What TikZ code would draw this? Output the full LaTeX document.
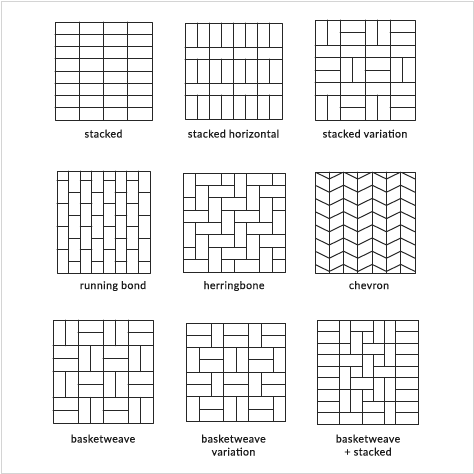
\documentclass[tikz,border=0pt]{standalone}
\usepackage{fontspec}
\setmainfont{Lato}[LetterSpace=4,FakeBold=0.4]
\definecolor{ink}{HTML}{262626}
\definecolor{labelink}{HTML}{1A1A1A}
\definecolor{framegray}{HTML}{D4D4D4}
\begin{document}
\begin{tikzpicture}[x=1pt,y=-1pt,
  brick/.style={draw=ink, line width=1pt, line join=round, line cap=round},
  lbl/.style={font=\fontsize{10.6}{12}\selectfont, text=labelink, inner sep=0pt, anchor=base}]
\useasboundingbox (0,0) rectangle (474,474);
\fill[white] (0,0) rectangle (474,474);
\draw[framegray, line width=0.8pt] (1,1) rectangle (473,473);

% ---------- Tile 1: stacked
\begin{scope}[shift={(55,22)},x=24.25pt,y=-12.25pt]
 \foreach \i in {1,2,3} \draw[brick] (\i,0) -- (\i,8);
 \foreach \j in {1,...,7} \draw[brick] (0,\j) -- (4,\j);
 \draw[brick] (0,0) rectangle (4,8);
\end{scope}

% ---------- Tile 2: stacked horizontal
\begin{scope}[shift={(185,23)},x=12.125pt,y=-12pt]
 \foreach \j in {2,3,5,6} \draw[brick] (0,\j) -- (8,\j);
 \foreach \i in {1,...,7} {\draw[brick] (\i,0) -- (\i,2); \draw[brick] (\i,3) -- (\i,5); \draw[brick] (\i,6) -- (\i,8);}
 \foreach \i in {2,4,6} {\draw[brick] (\i,2) -- (\i,3); \draw[brick] (\i,5) -- (\i,6);}
 \draw[brick] (0,0) rectangle (8,8);
\end{scope}

% ---------- Tile 3: stacked variation
\begin{scope}[shift={(315,20)},x=12.5pt,y=-12.5pt]
 \foreach \j in {2,3,5,6} \draw[brick] (0,\j) -- (8,\j);
 \foreach \i in {2,4,6} \draw[brick] (\i,0) -- (\i,8);
 \draw[brick] (1,0) -- (1,2); \draw[brick] (2,1) -- (4,1); \draw[brick] (5,0) -- (5,2); \draw[brick] (6,1) -- (8,1);
 \draw[brick] (0,4) -- (2,4); \draw[brick] (3,3) -- (3,5); \draw[brick] (4,4) -- (6,4); \draw[brick] (7,3) -- (7,5);
 \draw[brick] (1,6) -- (1,8); \draw[brick] (2,7) -- (4,7); \draw[brick] (5,6) -- (5,8); \draw[brick] (6,7) -- (8,7);
 \draw[brick] (0,0) rectangle (8,8);
\end{scope}

% ---------- Tile 4: running bond
\begin{scope}[shift={(57,171)},x=11.625pt,y=-1pt]
 \foreach \i in {1,...,7} \draw[brick] (\i,0) -- (\i,102);
 \foreach \i in {0,2,4,6} \foreach \y in {9.5,32.5,55.5,78.5} \draw[brick] (\i,\y) -- ({\i+1},\y);
 \foreach \i in {1,3,5,7} \foreach \y in {21,44,67,90} \draw[brick] (\i,\y) -- ({\i+1},\y);
 \draw[brick] (0,0) rectangle (8,102);
\end{scope}

% ---------- Tile 5: herringbone
\begin{scope}[shift={(183,173)},x=12.75pt,y=-12.375pt]
 \begin{scope}
  \clip (0,0) rectangle (8,8);
  \foreach \n in {-3,...,9}{\foreach \k in {-3,...,3}{
    \draw[brick] ({\n},{(\n)-1+4*(\k)}) rectangle ++(2,1);
    \draw[brick] ({\n},{(\n)+4*(\k)}) rectangle ++(1,2);
  }}
 \end{scope}
 \draw[brick] (0,0) rectangle (8,8);
\end{scope}

% ---------- Tile 6: chevron
\begin{scope}[shift={(315,172)},x=14.2857pt,y=-1pt]
 \begin{scope}
  \clip (0,0) rectangle (7,101);
  \foreach \j in {0,...,7} {
    \draw[brick] (0,{13.2*\j}) \foreach \i in {1,...,7} { -- (\i,{13.2*\j+7*mod(\i,2)}) };
  }
 \end{scope}
 \foreach \i in {1,...,6} \draw[brick] (\i,0) -- (\i,101);
 \draw[brick] (0,0) rectangle (7,101);
\end{scope}

% ---------- Tile 7: basketweave
\begin{scope}[shift={(53,320)},x=12.5pt,y=-12.875pt]
 \foreach \i in {2,4,6} {\draw[brick] (\i,0) -- (\i,8); \draw[brick] (0,\i) -- (8,\i);}
 \foreach \colk in {0,...,3} \foreach \rowk in {0,...,3} {
   \pgfmathtruncatemacro\pp{mod(\colk+\rowk,2)}
   \ifnum\pp=0
     \draw[brick] ({2*\colk+1},{2*\rowk}) -- ({2*\colk+1},{2*\rowk+2});
   \else
     \draw[brick] ({2*\colk},{2*\rowk+1}) -- ({2*\colk+2},{2*\rowk+1});
   \fi
 }
 \draw[brick] (0,0) rectangle (8,8);
\end{scope}

% ---------- Tile 8: basketweave variation
\begin{scope}[shift={(186.7,323)},x=12.41pt,y=-12.29pt]
 \foreach \t in {0,4} {
   \draw[brick] (0,\t) rectangle (2,\t+1); \draw[brick] (0,\t+1) rectangle (2,\t+2);
   \draw[brick] (2,\t) rectangle (3,\t+2);
   \draw[brick] (3,\t) rectangle (5,\t+1); \draw[brick] (3,\t+1) rectangle (5,\t+2);
   \draw[brick] (5,\t) rectangle (6,\t+2);
   \draw[brick] (6,\t) rectangle (8,\t+1); \draw[brick] (6,\t+1) rectangle (8,\t+2);
 }
 \foreach \t in {2,6} {
   \draw[brick] (0,\t) rectangle (1,\t+2);
   \draw[brick] (1,\t) rectangle (3,\t+1); \draw[brick] (1,\t+1) rectangle (3,\t+2);
   \draw[brick] (3,\t) rectangle (4,\t+2);
   \draw[brick] (4,\t) rectangle (5,\t+2);
   \draw[brick] (5,\t) rectangle (7,\t+1); \draw[brick] (5,\t+1) rectangle (7,\t+2);
   \draw[brick] (7,\t) rectangle (8,\t+2);
 }
 \draw[brick] (0,0) rectangle (8,8);
\end{scope}

% ---------- Tile 9: basketweave + stacked
\begin{scope}[shift={(317.3,320)},x=11.22pt,y=-11.59pt]
 \foreach \j in {0,...,8} {\draw[brick] (0,\j) rectangle (2,\j+1); \draw[brick] (7,\j) rectangle (9,\j+1);}
 \draw[brick] (2,0) rectangle (3,2); \draw[brick] (2,2) rectangle (3,3); \draw[brick] (2,3) rectangle (4,4);
 \draw[brick] (2,4) rectangle (3,6); \draw[brick] (2,6) rectangle (3,8); \draw[brick] (2,8) rectangle (4,9);
 \draw[brick] (3,0) rectangle (5,1); \draw[brick] (3,1) rectangle (4,3); \draw[brick] (3,4) rectangle (4,5);
 \draw[brick] (3,5) rectangle (5,6); \draw[brick] (3,6) rectangle (4,8);
 \draw[brick] (4,1) rectangle (5,2); \draw[brick] (4,2) rectangle (6,3); \draw[brick] (4,3) rectangle (5,5);
 \draw[brick] (4,6) rectangle (5,7); \draw[brick] (4,7) rectangle (6,8); \draw[brick] (4,8) rectangle (6,9);
 \draw[brick] (5,0) rectangle (6,2); \draw[brick] (5,3) rectangle (6,4); \draw[brick] (5,4) rectangle (7,5);
 \draw[brick] (5,5) rectangle (6,7);
 \draw[brick] (6,0) rectangle (7,2); \draw[brick] (6,2) rectangle (7,4); \draw[brick] (6,5) rectangle (7,7);
 \draw[brick] (6,7) rectangle (7,9);
 \draw[brick] (0,0) rectangle (9,9);
\end{scope}

% ---------- Labels
\node[lbl] (l1) at (103.5,137.5) {stacked};
\node[lbl] (l2) at (233.5,137.5) {stacked horizontal};
\node[lbl] (l3) at (365,137.5) {stacked variation};
\node[lbl] (l4) at (113,289) {running bond};
\node[lbl] (l5) at (234,289) {herringbone};
\node[lbl] (l6) at (369,289) {chevron};
\node[lbl] (l7) at (103,442.5) {basketweave};
\node[lbl] (l8a) at (233.5,442.5) {basketweave};
\node[lbl] (l8b) at (233.5,455.5) {variation};
\node[lbl] (l9a) at (368,442.5) {basketweave};
\node[lbl] (l9b) at (368,455.5) {+ stacked};
\end{tikzpicture}
\end{document}
